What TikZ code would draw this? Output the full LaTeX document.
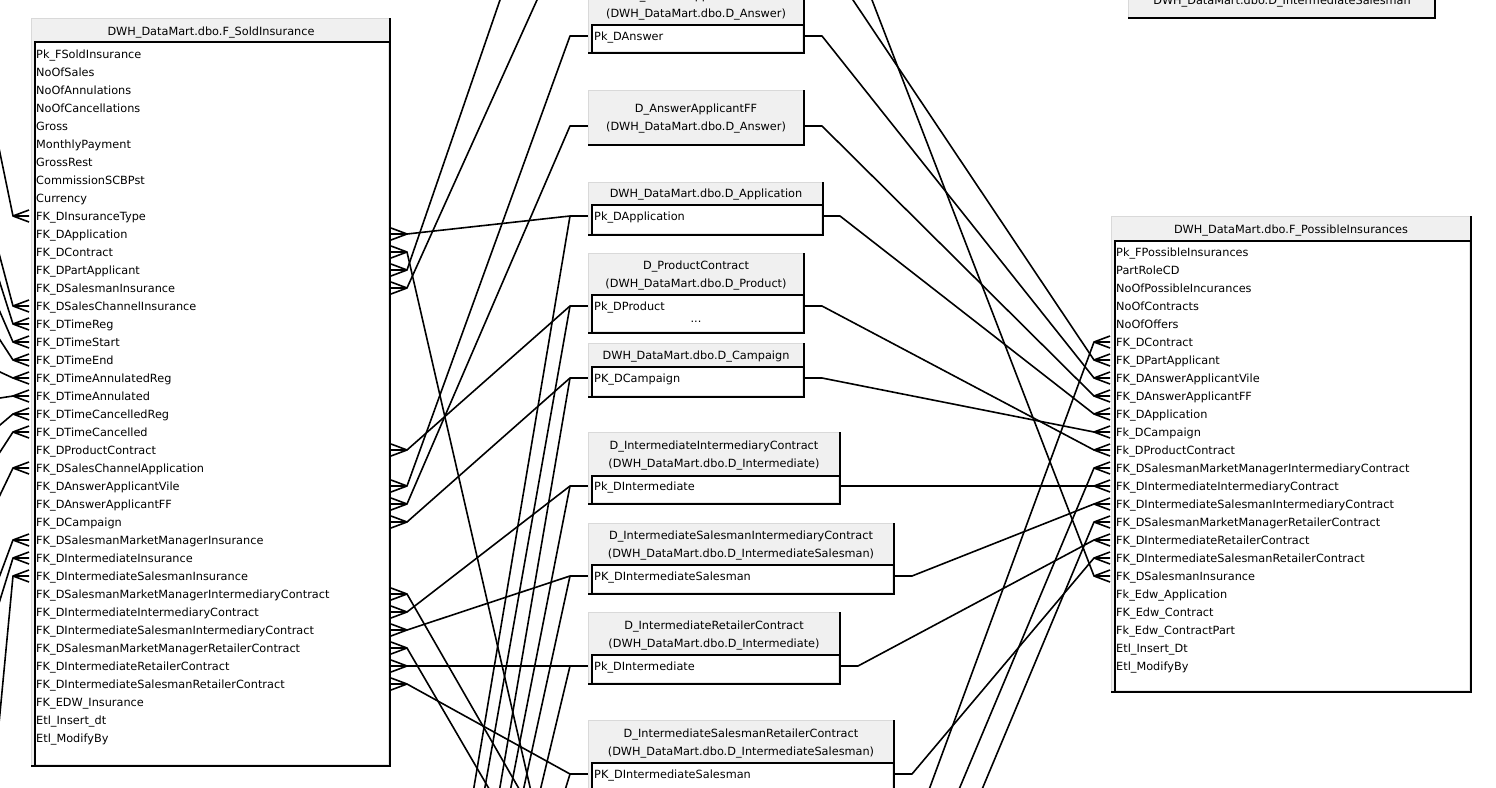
\documentclass[tikz,border=0pt]{standalone}
\usepackage{fontspec}
\setmainfont{DejaVu Sans}
\newcommand\rowf{\fontsize{11.3}{13}\selectfont}
\definecolor{hdrgray}{HTML}{F0F0F0}
\definecolor{edgelight}{HTML}{D9D9D9}
\definecolor{inedge}{HTML}{E6E6E6}
\newcommand\tblbox[4]{%
  \fill[hdrgray] (#1,#2) rectangle (#3,#4);
  \draw[edgelight, line width=1pt] (#1+0.5,#4) -- (#1+0.5,#2+0.5) -- (#3,#2+0.5);
  \draw[line width=2.4pt] (#3-1.2,#2) -- (#3-1.2,#4-1.2) -- (#1,#4-1.2);}
\newcommand\tbllist[4]{%
  \fill[white] (#1+3,#2) rectangle (#3-2.4,#4-2.4);
  \draw[inedge, line width=1pt] (#1+3,#4-3) -- (#3-3,#4-3) -- (#3-3,#2);
  \draw[line width=2pt] (#1+4,#4-2.4) -- (#1+4,#2+1) -- (#3-2.4,#2+1);}
\newcommand\crowR[3]{%
  \coordinate (#3) at (#1+16,#2);
  \draw[conn] (#1,#2-6) -- (#3) -- (#1,#2+6) (#1,#2) -- (#3);}
\newcommand\crowL[3]{%
  \coordinate (#3) at (#1-16,#2);
  \draw[conn] (#1,#2-6) -- (#3) -- (#1,#2+6) (#1,#2) -- (#3);}
\begin{document}
\begin{tikzpicture}[x=1pt,y=-1pt,
  conn/.style={line width=1.6pt, line join=round},
  extA/.style={shorten <=-8pt},
  extB/.style={shorten >=-8pt},
  rowtxt/.style={anchor=base west, inner sep=0pt, font=\rowf},
  ttl/.style={anchor=base, inner sep=0pt, font=\rowf}]
\useasboundingbox (0,0) rectangle (1496,787);
\clip (0,0) rectangle (1496,787);
\fill[white] (0,0) rectangle (1496,787);

% ---------- crow's feet ----------
\foreach \y in {234,252,270,288,450,486,504,522,594,612,630,648,666,684}{\crowR{391}{\y}{sr\y}}
\foreach \y in {216,306,324,342,360,378,396,414,432,468,540,558,576}{\crowL{29}{\y}{sl\y}}
\foreach \y in {342,360,378,396,414,432,450,468,486,504,522,540,558,576}{\crowL{1110}{\y}{pl\y}}

% ---------- connector anchor points of dimension tables ----------
\coordinate (a1Le) at (588,36);  \coordinate (a1L) at (570,36);  \coordinate (a1Re) at (804,36);  \coordinate (a1R) at (822,36);
\coordinate (a2Le) at (588,126); \coordinate (a2L) at (570,126); \coordinate (a2Re) at (804,126); \coordinate (a2R) at (822,126);
\coordinate (apLe) at (588,216); \coordinate (apL) at (570,216); \coordinate (apRe) at (823,216); \coordinate (apR) at (840,216);
\coordinate (prLe) at (588,306); \coordinate (prL) at (570,306); \coordinate (prRe) at (804,306); \coordinate (prR) at (822,306);
\coordinate (caLe) at (588,378); \coordinate (caL) at (570,378); \coordinate (caRe) at (804,378); \coordinate (caR) at (822,378);
\coordinate (icLe) at (588,486); \coordinate (icL) at (570,486); \coordinate (icRe) at (840,486);
\coordinate (isLe) at (588,576); \coordinate (isL) at (570,576); \coordinate (isRe) at (894,576); \coordinate (isR) at (912,576);
\coordinate (irLe) at (588,666); \coordinate (irL) at (570,666); \coordinate (irRe) at (840,666); \coordinate (irR) at (858,666);
\coordinate (srLe) at (588,774); \coordinate (srL) at (570,774); \coordinate (srRe) at (894,774); \coordinate (srR) at (912,774);

% free ends outside the picture
\coordinate (t1) at (500,0);  \coordinate (t2) at (537,0);
\coordinate (t3) at (853,0);  \coordinate (t4) at (872,0);
\coordinate (b1) at (530,787); \coordinate (b2) at (518,787); \coordinate (b3) at (488,787);
\coordinate (bAp) at (474,787); \coordinate (bPr) at (485,787); \coordinate (bCa) at (500,787);
\coordinate (bIc) at (511,787); \coordinate (bIs) at (524,787); \coordinate (bIr) at (541,787);
\coordinate (bSr) at (566,787);
\coordinate (b10) at (930,787); \coordinate (b11) at (960,787); \coordinate (b12) at (983,787);
\coordinate (l216) at (0,153); \coordinate (l306) at (0,257); \coordinate (l324) at (0,283);
\coordinate (l342) at (0,312); \coordinate (l360) at (0,340); \coordinate (l378) at (0,372);
\coordinate (l396) at (0,398); \coordinate (l414) at (0,425); \coordinate (l432) at (0,452);
\coordinate (l468) at (0,495); \coordinate (l540) at (0,575); \coordinate (l558) at (0,600);
\coordinate (l576) at (0,713);

% ---------- connectors ----------
% dimensions -> F_SoldInsurance
\draw[conn] (a1Le) -- (a1L) -- (sr486);
\draw[conn] (a2Le) -- (a2L) -- (sr504);
\draw[conn] (apLe) -- (apL) -- (sr234);
\draw[conn] (prLe) -- (prL) -- (sr450);
\draw[conn] (caLe) -- (caL) -- (sr522);
\draw[conn] (icLe) -- (icL) -- (sr612);
\draw[conn] (isLe) -- (isL) -- (sr630);
\draw[conn] (irLe) -- (irL) -- (sr666);
\draw[conn] (srLe) -- (srL) -- (sr684);
\draw[conn,extA] (t1) -- (sr270);
\draw[conn,extA] (t2) -- (sr288);
\draw[conn,extA] (b1) -- (sr252);
\draw[conn,extA] (b2) -- (sr594);
\draw[conn,extA] (b3) -- (sr648);
% dimensions -> tables below the picture
\draw[conn,extB] (apL) -- (bAp);
\draw[conn,extB] (prL) -- (bPr);
\draw[conn,extB] (caL) -- (bCa);
\draw[conn,extB] (icL) -- (bIc);
\draw[conn,extB] (isL) -- (bIs);
\draw[conn,extB] (irL) -- (bIr);
\draw[conn,extB] (srL) -- (bSr);
% dimensions -> F_PossibleInsurances
\draw[conn] (a1Re) -- (a1R) -- (pl378);
\draw[conn] (a2Re) -- (a2R) -- (pl396);
\draw[conn] (apRe) -- (apR) -- (pl414);
\draw[conn] (caRe) -- (caR) -- (pl432);
\draw[conn] (prRe) -- (prR) -- (pl450);
\draw[conn] (icRe) -- (pl486);
\draw[conn] (isRe) -- (isR) -- (pl504);
\draw[conn] (irRe) -- (irR) -- (pl540);
\draw[conn] (srRe) -- (srR) -- (pl558);
\draw[conn,extA] (t3) -- (pl360);
\draw[conn,extA] (t4) -- (pl576);
\draw[conn,extA] (b10) -- (pl342);
\draw[conn,extA] (b11) -- (pl468);
\draw[conn,extA] (b12) -- (pl522);
% left side of F_SoldInsurance
\foreach \y in {216,306,324,342,360,378,396,414,432,468,540,558,576}{\draw[conn,extA] (l\y) -- (sl\y);}

% ---------- tables ----------
% F_SoldInsurance
\tblbox{31}{18}{391}{767}\tbllist{31}{41}{391}{767}
\node[ttl] (st) at (211,35) {DWH\_DataMart.dbo.F\_SoldInsurance};
\foreach \t [count=\i] in {Pk\_FSoldInsurance,NoOfSales,NoOfAnnulations,NoOfCancellations,Gross,MonthlyPayment,GrossRest,CommissionSCBPst,Currency,FK\_DInsuranceType,FK\_DApplication,FK\_DContract,FK\_DPartApplicant,FK\_DSalesmanInsurance,FK\_DSalesChannelInsurance,FK\_DTimeReg,FK\_DTimeStart,FK\_DTimeEnd,FK\_DTimeAnnulatedReg,FK\_DTimeAnnulated,FK\_DTimeCancelledReg,FK\_DTimeCancelled,FK\_DProductContract,FK\_DSalesChannelApplication,FK\_DAnswerApplicantVile,FK\_DAnswerApplicantFF,FK\_DCampaign,FK\_DSalesmanMarketManagerInsurance,FK\_DIntermediateInsurance,FK\_DIntermediateSalesmanInsurance,FK\_DSalesmanMarketManagerIntermediaryContract,FK\_DIntermediateIntermediaryContract,FK\_DIntermediateSalesmanIntermediaryContract,FK\_DSalesmanMarketManagerRetailerContract,FK\_DIntermediateRetailerContract,FK\_DIntermediateSalesmanRetailerContract,FK\_EDW\_Insurance,Etl\_Insert\_dt,Etl\_ModifyBy}
  {\node[rowtxt] (s\i) at (36,{40+18*\i}) {\t};}

% F_PossibleInsurances
\tblbox{1111}{216}{1472}{693}\tbllist{1111}{240}{1472}{693}
\node[ttl] (pt) at (1291,233) {DWH\_DataMart.dbo.F\_PossibleInsurances};
\foreach \t [count=\i] in {Pk\_FPossibleInsurances,PartRoleCD,NoOfPossibleIncurances,NoOfContracts,NoOfOffers,FK\_DContract,FK\_DPartApplicant,FK\_DAnswerApplicantVile,FK\_DAnswerApplicantFF,FK\_DApplication,Fk\_DCampaign,Fk\_DProductContract,FK\_DSalesmanMarketManagerIntermediaryContract,FK\_DIntermediateIntermediaryContract,FK\_DIntermediateSalesmanIntermediaryContract,FK\_DSalesmanMarketManagerRetailerContract,FK\_DIntermediateRetailerContract,FK\_DIntermediateSalesmanRetailerContract,FK\_DSalesmanInsurance,Fk\_Edw\_Application,FK\_Edw\_Contract,Fk\_Edw\_ContractPart,Etl\_Insert\_Dt,Etl\_ModifyBy}
  {\node[rowtxt] (p\i) at (1116,{238+18*\i}) {\t};}

% D_IntermediateSalesman (top right, cut)
\tblbox{1128}{-12}{1436}{19}
\node[ttl] (ist) at (1282,5) {DWH\_DataMart.dbo.D\_IntermediateSalesman};

% D_AnswerApplicantVile
\tblbox{588}{-22}{805}{54}\tbllist{588}{24}{805}{54}
\node[ttl] (a1t1) at (696,-1) {D\_AnswerApplicantVile};
\node[ttl] (a1t2) at (696,17) {(DWH\_DataMart.dbo.D\_Answer)};
\node[rowtxt] (a1r) at (594,40) {Pk\_DAnswer};

% D_AnswerApplicantFF
\tblbox{588}{90}{805}{146}
\node[ttl] (a2t1) at (696,112) {D\_AnswerApplicantFF};
\node[ttl] (a2t2) at (696,130) {(DWH\_DataMart.dbo.D\_Answer)};

% D_Application
\tblbox{588}{182}{824}{236}\tbllist{588}{204}{824}{236}
\node[ttl] (apt) at (706,197) {DWH\_DataMart.dbo.D\_Application};
\node[rowtxt] (apr) at (594,220) {Pk\_DApplication};

% D_ProductContract
\tblbox{588}{253}{805}{334}\tbllist{588}{294}{805}{334}
\node[ttl] (prt1) at (696,269) {D\_ProductContract};
\node[ttl] (prt2) at (696,287) {(DWH\_DataMart.dbo.D\_Product)};
\node[rowtxt] (prr) at (594,310) {Pk\_DProduct};
\node[ttl] (prd) at (696,322) {...};

% D_Campaign
\tblbox{588}{343}{805}{398}\tbllist{588}{366}{805}{398}
\node[ttl] (cat) at (696,359) {DWH\_DataMart.dbo.D\_Campaign};
\node[rowtxt] (car) at (594,382) {PK\_DCampaign};

% D_IntermediateIntermediaryContract
\tblbox{588}{432}{841}{505}\tbllist{588}{475}{841}{505}
\node[ttl] (ict1) at (714,449) {D\_IntermediateIntermediaryContract};
\node[ttl] (ict2) at (714,467) {(DWH\_DataMart.dbo.D\_Intermediate)};
\node[rowtxt] (icr) at (594,490) {Pk\_DIntermediate};

% D_IntermediateSalesmanIntermediaryContract
\tblbox{588}{523}{895}{595}\tbllist{588}{564}{895}{595}
\node[ttl] (ist1) at (741,539) {D\_IntermediateSalesmanIntermediaryContract};
\node[ttl] (ist2) at (741,557) {(DWH\_DataMart.dbo.D\_IntermediateSalesman)};
\node[rowtxt] (isr) at (594,580) {PK\_DIntermediateSalesman};

% D_IntermediateRetailerContract
\tblbox{588}{612}{841}{685}\tbllist{588}{654}{841}{685}
\node[ttl] (irt1) at (714,629) {D\_IntermediateRetailerContract};
\node[ttl] (irt2) at (714,647) {(DWH\_DataMart.dbo.D\_Intermediate)};
\node[rowtxt] (irr) at (594,670) {Pk\_DIntermediate};

% D_IntermediateSalesmanRetailerContract
\tblbox{588}{720}{895}{810}\tbllist{588}{762}{895}{810}
\node[ttl] (srt1) at (741,737) {D\_IntermediateSalesmanRetailerContract};
\node[ttl] (srt2) at (741,755) {(DWH\_DataMart.dbo.D\_IntermediateSalesman)};
\node[rowtxt] (srr) at (594,778) {PK\_DIntermediateSalesman};
\end{tikzpicture}
\end{document}
